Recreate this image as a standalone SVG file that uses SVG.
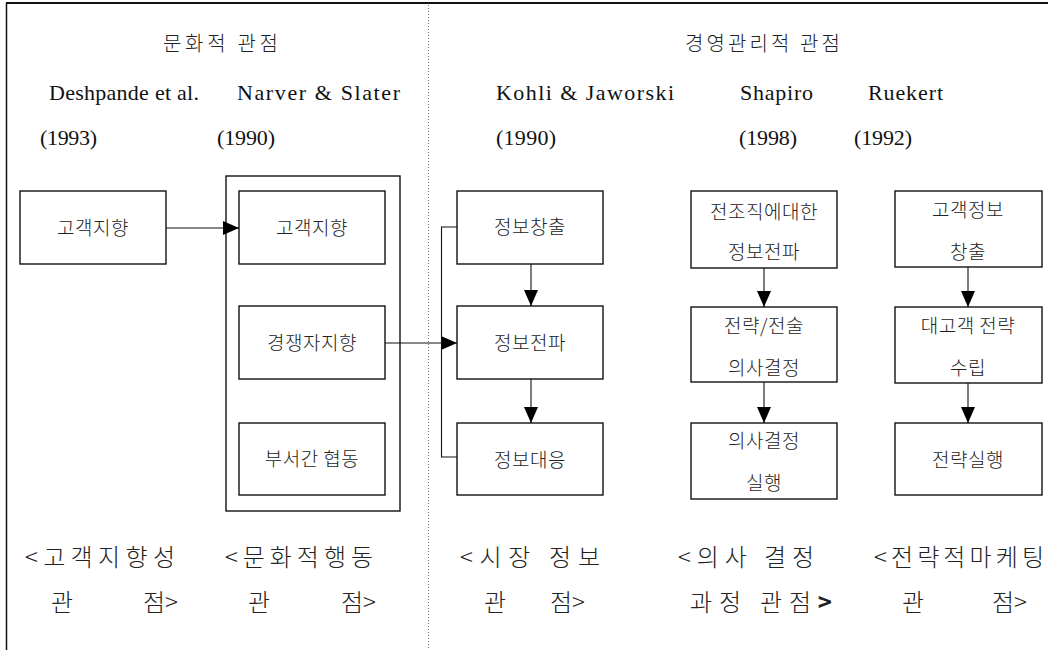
<svg xmlns="http://www.w3.org/2000/svg" width="1048" height="650" viewBox="0 0 1048 650">
  <style>
    .frame { stroke: #111; fill: none; }
    .divider { stroke: #777; stroke-width: 1; stroke-dasharray: 1 2; fill: none; }
    .box { fill: #fff; stroke: #111; stroke-width: 1.4; }
    .group { fill: none; stroke: #111; stroke-width: 1.4; }
    .edge { stroke: #111; stroke-width: 1.1; fill: none; }
    .lat { font-family: "Liberation Serif", "Noto Sans CJK KR", serif; font-size: 22px; fill: #111; }
    .ko { font-family: "Noto Sans CJK KR", "Liberation Sans", sans-serif; font-weight: 300; fill: #222; }
    .title { font-size: 20px; }
    .lbl { font-size: 19px; letter-spacing: 0.5px; text-anchor: middle; }
    .cap { font-size: 24px; }
  </style>
  <defs>
    <marker id="arrow" markerUnits="userSpaceOnUse" markerWidth="16" markerHeight="14" refX="16" refY="7" orient="auto">
      <path d="M0,0 L16,7 L0,14 z" fill="#000"/>
    </marker>
  </defs>

  <rect width="1048" height="650" fill="#fff"/>

  <!-- page frame and column divider -->
  <g id="frame">
    <line class="frame" x1="6" y1="3" x2="1048" y2="3" stroke-width="2"/>
    <line class="frame" x1="6.5" y1="3" x2="6.5" y2="650" stroke-width="1.5"/>
    <line class="divider" x1="428.5" y1="5" x2="428.5" y2="650"/>
  </g>

  <!-- headings -->
  <g id="headings">
    <text class="ko title" x="163" y="51" textLength="115" lengthAdjust="spacing">문화적 관점</text>
    <text class="ko title" x="685" y="51" textLength="155" lengthAdjust="spacing">경영관리적 관점</text>
    <text class="lat" x="49" y="100" textLength="150" lengthAdjust="spacing">Deshpande et al.</text>
    <text class="lat" x="237" y="100" textLength="163" lengthAdjust="spacing">Narver &amp; Slater</text>
    <text class="lat" x="496" y="100" textLength="178" lengthAdjust="spacing">Kohli &amp; Jaworski</text>
    <text class="lat" x="740" y="100" textLength="73" lengthAdjust="spacing">Shapiro</text>
    <text class="lat" x="868" y="100" textLength="75" lengthAdjust="spacing">Ruekert</text>
    <text class="lat" x="40" y="145" textLength="57" lengthAdjust="spacing">(1993)</text>
    <text class="lat" x="217" y="145" textLength="58" lengthAdjust="spacing">(1990)</text>
    <text class="lat" x="496" y="145" textLength="60" lengthAdjust="spacing">(1990)</text>
    <text class="lat" x="739" y="145" textLength="58" lengthAdjust="spacing">(1998)</text>
    <text class="lat" x="854" y="145" textLength="58" lengthAdjust="spacing">(1992)</text>
  </g>

  <!-- cultural perspective -->
  <g id="customer-orientation">
    <rect class="box" x="20" y="191" width="146" height="73"/>
    <text class="ko lbl" x="93" y="235">고객지향</text>
  </g>
  <g id="narver-slater">
    <rect class="group" x="226" y="176" width="174" height="335"/>
  </g>
  <g id="ns-customer">
    <rect class="box" x="239" y="191" width="146" height="73"/>
    <text class="ko lbl" x="312" y="235">고객지향</text>
  </g>
  <g id="ns-competitor">
    <rect class="box" x="239" y="306" width="146" height="73"/>
    <text class="ko lbl" x="312" y="350">경쟁자지향</text>
  </g>
  <g id="ns-interfunctional">
    <rect class="box" x="239" y="423" width="146" height="72"/>
    <text class="ko lbl" x="312" y="466">부서간 협동</text>
  </g>

  <!-- Kohli & Jaworski -->
  <g id="kj-generation">
    <rect class="box" x="457" y="191" width="146" height="73"/>
    <text class="ko lbl" x="530" y="234">정보창출</text>
  </g>
  <g id="kj-dissemination">
    <rect class="box" x="457" y="306" width="146" height="73"/>
    <text class="ko lbl" x="530" y="350">정보전파</text>
  </g>
  <g id="kj-response">
    <rect class="box" x="457" y="423" width="146" height="72"/>
    <text class="ko lbl" x="530" y="467">정보대응</text>
  </g>

  <!-- Shapiro -->
  <g id="sh-dissemination">
    <rect class="box" x="691" y="191" width="146" height="77"/>
    <text class="ko lbl" x="764" y="219">전조직에대한</text>
    <text class="ko lbl" x="764" y="259">정보전파</text>
  </g>
  <g id="sh-decision">
    <rect class="box" x="691" y="307" width="146" height="75"/>
    <text class="ko lbl" x="764" y="333">전략/전술</text>
    <text class="ko lbl" x="764" y="375">의사결정</text>
  </g>
  <g id="sh-execution">
    <rect class="box" x="691" y="423" width="146" height="76"/>
    <text class="ko lbl" x="764" y="448">의사결정</text>
    <text class="ko lbl" x="764" y="490">실행</text>
  </g>

  <!-- Ruekert -->
  <g id="ru-generation">
    <rect class="box" x="895" y="191" width="147" height="76"/>
    <text class="ko lbl" x="968" y="217">고객정보</text>
    <text class="ko lbl" x="968" y="259">창출</text>
  </g>
  <g id="ru-strategy">
    <rect class="box" x="895" y="307" width="147" height="76"/>
    <text class="ko lbl" x="968" y="333">대고객 전략</text>
    <text class="ko lbl" x="968" y="375">수립</text>
  </g>
  <g id="ru-execution">
    <rect class="box" x="895" y="423" width="147" height="72"/>
    <text class="ko lbl" x="968" y="467">전략실행</text>
  </g>

  <!-- connectors -->
  <g id="connectors">
    <line class="edge" x1="166" y1="228" x2="239" y2="228" marker-end="url(#arrow)"/>
    <line class="edge" x1="385" y1="343" x2="457" y2="343" marker-end="url(#arrow)"/>
    <polyline class="edge" points="457,227 441.5,227 441.5,457 457,457"/>
    <line class="edge" x1="531" y1="264" x2="531" y2="306" marker-end="url(#arrow)"/>
    <line class="edge" x1="531" y1="379" x2="531" y2="423" marker-end="url(#arrow)"/>
    <line class="edge" x1="764" y1="268" x2="764" y2="307" marker-end="url(#arrow)"/>
    <line class="edge" x1="764" y1="382" x2="764" y2="423" marker-end="url(#arrow)"/>
    <line class="edge" x1="968" y1="267" x2="968" y2="307" marker-end="url(#arrow)"/>
    <line class="edge" x1="968" y1="383" x2="968" y2="423" marker-end="url(#arrow)"/>
  </g>

  <!-- perspective captions -->
  <g id="captions">
    <text class="ko cap" x="25" y="566" textLength="150" lengthAdjust="spacing">&lt;고객지향성</text>
    <text class="ko cap" x="51" y="611">관</text>
    <text class="ko cap" x="143" y="611">점&gt;</text>

    <text class="ko cap" x="225" y="566" textLength="148" lengthAdjust="spacing">&lt;문화적행동</text>
    <text class="ko cap" x="248" y="611">관</text>
    <text class="ko cap" x="341" y="611">점&gt;</text>

    <text class="ko cap" x="460" y="566" textLength="140" lengthAdjust="spacing">&lt;시장 정보</text>
    <text class="ko cap" x="484" y="611">관</text>
    <text class="ko cap" x="550" y="611">점&gt;</text>

    <text class="ko cap" x="678" y="566" textLength="136" lengthAdjust="spacing">&lt;의사 결정</text>
    <text class="ko cap" x="690" y="611" textLength="142" lengthAdjust="spacing">과정 관점<tspan font-weight="700">&gt;</tspan></text>

    <text class="ko cap" x="874" y="566" textLength="170" lengthAdjust="spacing">&lt;전략적마케팅</text>
    <text class="ko cap" x="902" y="611">관</text>
    <text class="ko cap" x="992" y="611">점&gt;</text>
  </g>
</svg>
